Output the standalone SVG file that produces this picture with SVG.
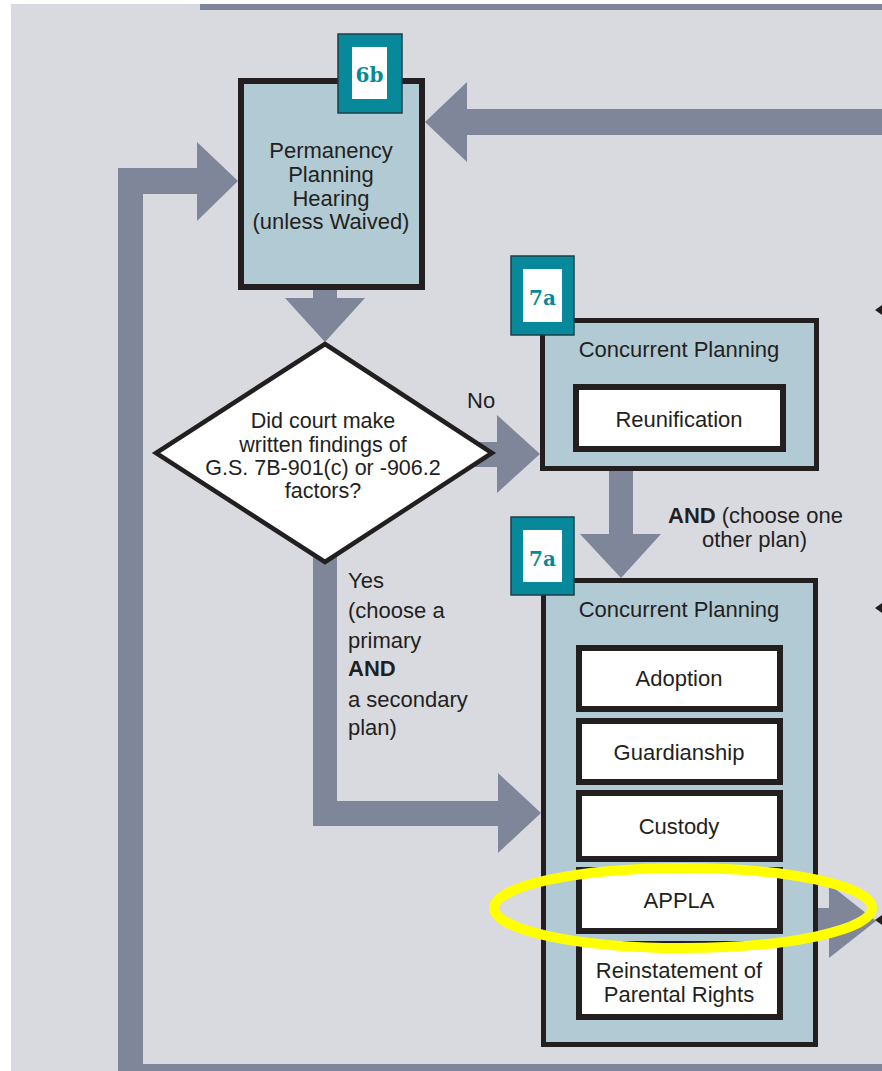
<svg xmlns="http://www.w3.org/2000/svg" width="882" height="1071" viewBox="0 0 882 1071">
<style>
.arrow{fill:#80869a}
.box{fill:#b1cad4;stroke:#231f20}
.inner{fill:#ffffff;stroke:#231f20;stroke-width:6}
.badge{fill:#07899b;stroke:#1d3f47;stroke-width:1.5}
.badgein{fill:#ffffff}
.bt{font-family:"DejaVu Serif","Liberation Serif",serif;font-weight:bold;font-size:20px;fill:#07899b;text-anchor:middle}
.t{font-family:"Liberation Sans",Arial,sans-serif;font-size:22px;fill:#231f20}
.c{text-anchor:middle}
.d{font-size:21.5px}
.b{font-weight:bold}
.tip{fill:#231f20}
</style>
<rect x="0" y="0" width="882" height="1071" fill="#ffffff"/>
<rect x="11" y="4" width="871" height="1067" fill="#d9dae0"/>
<rect x="200" y="4" width="682" height="6" fill="#80869a"/>

<g id="connectors">
  <polygon class="arrow" points="882,109 467,109 467,82 425,122 467,162 467,135 882,135"/>
  <polygon class="arrow" points="118,1071 118,168 197,168 197,142 238,181 197,221 197,194 143,194 143,1064 882,1064 882,1071"/>
  <polygon class="arrow" points="313,288 337,288 337,298 365,298 325,342 285,298 313,298"/>
  <polygon class="arrow" points="470,442 497,442 497,415 540,454 497,493 497,467 470,467"/>
  <polygon class="arrow" points="609,469 633,469 633,534 661,534 621,578 580,534 609,534"/>
  <polygon class="arrow" points="313,540 337,540 337,801 498,801 498,773 541,813 498,853 498,826 313,826"/>
  <polygon class="arrow" points="815,908 829,908 829,884 876,921 829,958 829,934 815,934"/>
  <polygon class="tip" points="875,310 882,305 882,315"/>
  <polygon class="tip" points="875,608 882,603 882,613"/>
  <polygon class="tip" points="875,920 882,915 882,925"/>
  <text class="t" x="467" y="408">No</text>
  <text class="t" x="348" y="588">Yes</text>
  <text class="t" x="348" y="618">(choose a</text>
  <text class="t" x="348" y="648">primary</text>
  <text class="t b" x="348" y="676">AND</text>
  <text class="t" x="348" y="707">a secondary</text>
  <text class="t" x="348" y="735">plan)</text>
  <text class="t" x="668" y="523"><tspan class="b">AND</tspan> (choose one</text>
  <text class="t" x="702" y="547">other plan)</text>
</g>

<g id="node-6b">
  <rect class="box" x="241" y="81" width="181" height="206" stroke-width="6"/>
  <rect class="badge" x="338" y="34" width="64" height="79"/>
  <rect class="badgein" x="352" y="47" width="35" height="52"/>
  <text class="bt" x="369.5" y="82">6b</text>
  <text class="t c" x="331" y="158">Permanency</text>
  <text class="t c" x="331" y="182">Planning</text>
  <text class="t c" x="331" y="206">Hearing</text>
  <text class="t c" x="331" y="229">(unless Waived)</text>
</g>

<g id="node-decision">
  <polygon points="325,344 492,453 325,562 156,453" fill="#ffffff" stroke="#231f20" stroke-width="4.5" stroke-linejoin="miter"/>
  <text class="t d c" x="323" y="428">Did court make</text>
  <text class="t d c" x="323" y="452">written findings of</text>
  <text class="t d c" x="323" y="475">G.S. 7B-901(c) or -906.2</text>
  <text class="t d c" x="323" y="498">factors?</text>
</g>

<g id="node-7a-reunification">
  <rect class="box" x="542.5" y="320.5" width="274" height="148" stroke-width="5"/>
  <rect class="badge" x="511" y="256" width="63" height="79"/>
  <rect class="badgein" x="523" y="269" width="39" height="53"/>
  <text class="bt" x="542.5" y="305">7a</text>
  <text class="t c" x="679" y="357">Concurrent Planning</text>
  <rect class="inner" x="576" y="387" width="207" height="62"/>
  <text class="t c" x="679" y="427">Reunification</text>
</g>

<g id="node-7a-plans">
  <rect class="box" x="543.5" y="580.5" width="272" height="464" stroke-width="5"/>
  <rect class="badge" x="511" y="517" width="63" height="78"/>
  <rect class="badgein" x="523" y="530" width="39" height="52"/>
  <text class="bt" x="542.5" y="566">7a</text>
  <text class="t c" x="679" y="617">Concurrent Planning</text>
  <g id="plan-adoption">
    <rect class="inner" x="579" y="648" width="201" height="61"/>
    <text class="t c" x="679" y="686">Adoption</text>
  </g>
  <g id="plan-guardianship">
    <rect class="inner" x="579" y="721" width="201" height="61"/>
    <text class="t c" x="679" y="760">Guardianship</text>
  </g>
  <g id="plan-custody">
    <rect class="inner" x="579" y="793" width="201" height="66"/>
    <text class="t c" x="679" y="834">Custody</text>
  </g>
  <g id="plan-appla">
    <rect class="inner" x="579" y="870" width="201" height="61"/>
    <text class="t c" x="679" y="908">APPLA</text>
  </g>
  <g id="plan-reinstatement">
    <rect class="inner" x="579" y="944" width="201" height="73"/>
    <text class="t c" x="679" y="978">Reinstatement of</text>
    <text class="t c" x="679" y="1002">Parental Rights</text>
  </g>
</g>

<ellipse id="highlight" cx="683" cy="908" rx="189" ry="40" fill="none" stroke="#ffff00" stroke-width="10"/>
</svg>
